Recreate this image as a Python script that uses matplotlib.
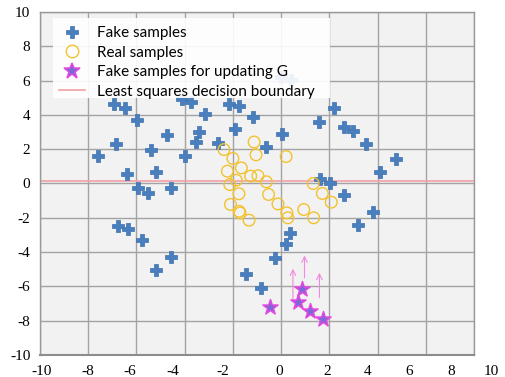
import matplotlib
matplotlib.use("Agg")
import matplotlib.pyplot as plt
from matplotlib.transforms import blended_transform_factory
from matplotlib.lines import Line2D
from matplotlib.patches import Rectangle

# ---- data ----
fake_x = [-6.94, -6.48, -5.97, -4.75, -6.85, -5.38, -7.59, -4.00, -6.41, -5.17,
          -4.13, -3.72, -3.17, -3.42, -3.54, -2.61, -2.16, -1.74, -1.91, -1.18,
          -0.61, 0.03, 0.00, 0.42, 1.57, 2.20, 2.59, 3.00, 3.53, 4.77,
          4.12, 1.60, 2.03, -5.93, -5.52, -4.55, -6.76, -6.34, -5.79, -4.55,
          -5.20, 0.35, 0.21, -0.24, -1.44, -0.82, 2.59, 3.80, 3.18]
fake_y = [4.61, 4.41, 3.73, 2.80, 2.31, 1.98, 1.59, 1.59, 0.56, 0.66,
          4.90, 4.74, 4.08, 3.03, 2.41, 2.39, 4.66, 4.49, 3.20, 3.85,
          2.14, 2.88, 6.20, 6.05, 3.58, 4.38, 3.30, 3.05, 2.33, 1.40,
          0.66, 0.28, 0.04, -0.25, -0.54, -0.25, -2.45, -2.68, -3.32, -4.30,
          -5.05, -2.88, -3.50, -4.34, -5.25, -6.08, -0.68, -1.65, -2.43]

real_x = [-2.37, -2.00, -1.65, -2.23, -1.86, -1.26, -0.96, -1.12, -1.04, 0.21,
          -0.61, -2.13, 1.33, -1.75, -0.52, -2.10, -1.74, -1.70, -1.33, -0.13,
          0.24, 0.28, 0.94, 1.35, 1.71, 2.08]
real_y = [1.98, 1.46, 0.91, 0.72, 0.19, 0.43, 0.45, 2.42, 1.67, 1.57,
          0.10, -0.06, 0.00, -0.60, -0.64, -1.22, -1.62, -1.72, -2.14, -1.19,
          -1.71, -2.00, -1.52, -2.00, -0.58, -1.09]

star_x = [-0.48, 0.88, 0.72, 1.21, 1.73]
star_y = [-7.21, -6.18, -6.90, -7.41, -7.89]

arrow_x = [0.49, 0.97, 1.59]
arrow_y_start = [-6.76, -5.50, -6.66]
arrow_y_end = [-4.97, -4.20, -5.21]

boundary_y = 0.12

x_grid = list(range(-10, 9, 2))
y_ticks = list(range(-10, 11, 2))
x_tick_labels = ['-10', '-8', '-6', '-4', '-2', '0', '2', '4', '6', '8', '10']
x_tick_label_pos = [-9.92, -8.01, -6.27, -4.49, -2.42, -0.06, 1.93, 3.60, 5.32, 7.06, 8.72]

legend_labels = ['Fake samples', 'Real samples', 'Fake samples for updating G',
                 'Least squares decision boundary']

# ---- style ----
W, H = 506, 377
fig = plt.figure(figsize=(W / 100, H / 100), dpi=100)
ax = fig.add_axes([40 / W, 22 / H, 434 / W, 343 / H])
ax.set_xlim(-10, 8)
ax.set_ylim(-10, 10)
ax.set_facecolor('#f2f2f2')

ax.set_xticks(x_grid)
ax.set_xticklabels([])
ax.set_yticks(y_ticks)
ax.set_yticklabels([str(v) for v in y_ticks], fontfamily='Liberation Serif', fontsize=11)
ax.tick_params(axis='both', length=0, pad=7)
ax.grid(True, color='#a3a3a3', lw=1.0)
ax.set_axisbelow(True)
for s in ax.spines.values():
    s.set_color('#999999')
    s.set_linewidth(1.0)
ax.spines['bottom'].set_color('#8c8c8c')
ax.spines['bottom'].set_linewidth(1.5)

trans = blended_transform_factory(ax.transData, ax.transAxes)
for lab, pos in zip(x_tick_labels, x_tick_label_pos):
    ax.text(pos, -0.049, lab, transform=trans, ha='center', va='center',
            fontfamily='Liberation Serif', fontsize=11, clip_on=False)

ax.axhline(boundary_y, color='#f2a0a8', lw=1.2, zorder=2)

ax.scatter(fake_x, fake_y, marker='P', s=65, c='#4a7fbf', edgecolors='#3e70ab',
           linewidths=0.5, zorder=3)
ax.scatter(real_x, real_y, marker='o', s=70, facecolors='none', edgecolors='#f2c230',
           linewidths=1.0, zorder=3)
for x, y0, y1 in zip(arrow_x, arrow_y_start, arrow_y_end):
    ax.annotate('', xy=(x, y1), xytext=(x, y0),
                arrowprops=dict(arrowstyle='->', color='#f08ae0', lw=0.8,
                                shrinkA=0, shrinkB=0), zorder=3)
ax.scatter(star_x, star_y, marker='*', s=130, c='#7a6ad8', edgecolors='#e448e0',
           linewidths=1.1, zorder=4)

# legend background box
ax.add_patch(Rectangle((0.030, 0.749), 0.638, 0.2335, transform=ax.transAxes,
                       facecolor='white', edgecolor='none', alpha=0.9, zorder=5))

handles = [
    Line2D([], [], ls='none', marker='P', ms=9, mfc='#4a7fbf', mec='#3e70ab', mew=0.5),
    Line2D([], [], ls='none', marker='o', ms=9, mfc='none', mec='#f2c230', mew=1.0),
    Line2D([], [], ls='none', marker='*', ms=12, mfc='#7a6ad8', mec='#e448e0', mew=1.1),
    Line2D([], [], color='#f2a0a8', lw=1.2),
]
leg = ax.legend(handles, legend_labels, loc='upper left', bbox_to_anchor=(0.03, 0.977),
                prop={'family': 'Lato', 'size': 11}, frameon=False,
                handlelength=1.7, handletextpad=0.75, labelspacing=0.36,
                borderpad=0.4, borderaxespad=0)
leg.set_zorder(6)

fig.savefig('out.png', dpi=100)
